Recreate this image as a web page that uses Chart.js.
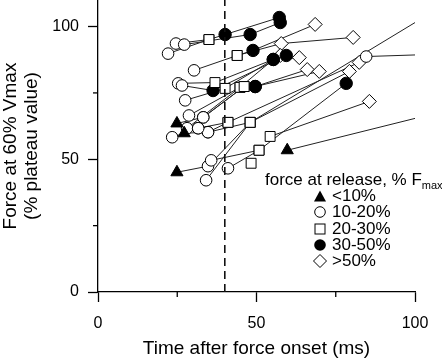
<!DOCTYPE html>
<html>
<head>
<meta charset="utf-8">
<script src="https://cdn.jsdelivr.net/npm/chart.js@4.4.1/dist/chart.umd.min.js"></script>
<style>
  html, body { margin: 0; padding: 0; background: #fff; }
  #wrap { position: relative; width: 442px; height: 363px; font-family: 'Liberation Sans', Arial, sans-serif; color: #000; }
  #legendTitle { position: absolute; left: 265px; top: 169px; font-size: 17px; line-height: 22px; white-space: nowrap; }
  #legendTitle sub { font-size: 11px; vertical-align: -4px; line-height: 0; }
  .row { position: absolute; left: 313px; height: 16px; line-height: 16px; font-size: 17px; white-space: nowrap; }
  .row svg { position: absolute; left: 0; top: 1px; }
  .row span { position: absolute; left: 19px; top: 0; }
</style>
</head>
<body>
<div id="wrap">
  <canvas id="chart" width="442" height="363"></canvas>
  <div id="legendTitle">force at release, % F<sub>max</sub></div>
  <div id="legendRows"></div>
</div>
<script>
// force at release groups (legend order) and their marker styles
const forceGroups = ['<10%', '10-20%', '20-30%', '30-50%', '>50%'];
const groupStyle = ['triangle', 'circle', 'rect', 'circle', 'rectRot'];
const groupFill = ['#000', '#fff', '#fff', '#000', '#fff'];
const groupRadius = [7, 5.8, 7, 6.2, 7];

// one entry per fibre: time after force onset (ms), force (% plateau), group index (null = line end)
const fiberTime = [
    [24.6, 35.0, 40.1, 57.2],
    [27.2, 48.0, 57.5],
    [22.1, 35.0],
    [30.3, 43.9, 48.9, 68.5],
    [43.9, 57.8, 80.5],
    [25.3, 36.9, 55.3, 63.5],
    [26.5, 36.3, 59.4],
    [27.5, 40.1, 57.5],
    [28.7, 44.8, 55.3],
    [33.2, 46.1, 49.6, 66.0],
    [28.1, 44.8, 49.6, 69.8],
    [31.6, 41.0, 82.4],
    [34.7, 48.0, 79.3],
    [24.9, 33.2, 46.1],
    [27.2, 34.7, 41.0],
    [24.9, 34.7, 48.0],
    [34.1, 48.0, 100],
    [35.7, 50.8, 78.3],
    [41.0, 50.8],
    [54.3, 85.6],
    [59.7, 100],
    [84.6, 100],
    [23.4, 31.6],
    [48.3]
];
const fiberForce = [
    [93.6, 95.1, 97.0, 103.4],
    [93.2, 97.0, 101.5],
    [89.8, 95.1],
    [83.5, 89.1, 91.0, 100.8],
    [89.1, 93.6, 95.9],
    [78.6, 78.9, 87.6, 88.3],
    [77.8, 75.9, 89.1],
    [72.2, 76.7, 89.1],
    [66.5, 77.1, 87.6],
    [65.8, 77.4, 77.4, 83.8],
    [61.7, 77.1, 77.4, 83.1],
    [61.7, 63.9, 86.5],
    [60.2, 63.9, 83.1],
    [63.5, 65.8, 77.4],
    [59.8, 60.2, 63.9],
    [45.1, 47.4, 63.9],
    [42.1, 63.9, 101.5],
    [49.6, 53.4, 78.6],
    [46.6, 53.4],
    [58.6, 71.8],
    [53.4, 65.4],
    [88.7, 89.3],
    [58.3, 61.7],
    [48.5]
];
const fiberGroup = [
    [1, 2, 3, 3],
    [1, 3, 3],
    [1, 2],
    [1, 2, 3, 4],
    [2, 4, 4],
    [1, 2, 3, 4],
    [1, 3, 3],
    [1, 2, 4],
    [1, 2, 3],
    [1, 2, 3, 4],
    [1, 2, 3, 4],
    [1, 2, 4],
    [1, 2, 4],
    [0, 1, 2],
    [0, 1, 2],
    [0, 1, 2],
    [1, 2, null],
    [1, 2, 3],
    [1, 2],
    [2, 4],
    [0, null],
    [1, null],
    [1, 1],
    [2]
];

const releaseTime = 40;       // dashed vertical line
const xTicks = [0, 50, 100];
const yTicks = [0, 50, 100];
const minorTicks = [25, 75];

// marker layer: one dataset per group, on top of the lines
const markerSets = forceGroups.map((label, g) => {
    const pts = [];
    fiberTime.forEach((xs, i) => xs.forEach((x, j) => {
        if (fiberGroup[i][j] === g) pts.push({ x: x, y: fiberForce[i][j] });
    }));
    return {
        label: label,
        data: pts,
        showLine: false,
        pointStyle: groupStyle[g],
        pointRadius: groupRadius[g],
        pointBackgroundColor: groupFill[g],
        pointBorderColor: '#000',
        pointBorderWidth: 1
    };
});

const dashedSet = {
    label: 'release',
    data: [{ x: releaseTime, y: 0 }, { x: releaseTime, y: 110 }],
    showLine: true,
    borderColor: '#111',
    borderWidth: 1.6,
    borderDash: [8, 5],
    pointRadius: 0
};

const fiberSets = fiberTime.map((xs, i) => ({
    label: 'fibre ' + (i + 1),
    data: xs.map((x, j) => ({ x: x, y: fiberForce[i][j] })),
    showLine: true,
    borderColor: '#222',
    borderWidth: 1,
    pointRadius: 0,
    tension: 0
}));

// minor ticks at 25 / 75 on both axes
const minorTickPlugin = {
    id: 'minorTicks',
    afterDraw(chart) {
        const ctx = chart.ctx;
        const xs = chart.scales.x, ys = chart.scales.y;
        const area = chart.chartArea;
        ctx.save();
        ctx.strokeStyle = '#000';
        ctx.lineWidth = 1.3;
        minorTicks.forEach(v => {
            const px = xs.getPixelForValue(v);
            ctx.beginPath();
            ctx.moveTo(px, area.bottom);
            ctx.lineTo(px, area.bottom + 5);
            ctx.stroke();
            const py = ys.getPixelForValue(v);
            ctx.beginPath();
            ctx.moveTo(area.left, py);
            ctx.lineTo(area.left - 5, py);
            ctx.stroke();
        });
        ctx.restore();
    }
};

Chart.defaults.font.family = "'Liberation Sans', Arial, sans-serif";
Chart.defaults.color = '#000';

new Chart(document.getElementById('chart'), {
    type: 'scatter',
    data: { datasets: [dashedSet, ...markerSets, ...fiberSets] },
    options: {
        responsive: false,
        animation: false,
        devicePixelRatio: 1,
        layout: { autoPadding: false, padding: { left: 0, right: 27, top: 0, bottom: 0 } },
        plugins: { legend: { display: false }, tooltip: { enabled: false } },
        scales: {
            x: {
                type: 'linear',
                min: 0,
                max: 100,
                afterBuildTicks: s => { s.ticks = xTicks.map(v => ({ value: v })); },
                afterFit: s => { s.height = 71; s.paddingLeft = 0; s.paddingRight = 0; },
                ticks: { font: { size: 16 }, color: '#000', padding: 12, maxRotation: 0 },
                grid: { display: true, drawOnChartArea: false, drawTicks: true, tickLength: 10, tickColor: '#000', tickWidth: 1.3 },
                border: { display: true, color: '#000', width: 1.3 },
                title: { display: true, text: 'Time after force onset (ms)', font: { size: 19 }, color: '#000', padding: { top: 0, bottom: 3 } }
            },
            y: {
                type: 'linear',
                min: 0,
                max: 110,
                afterBuildTicks: s => { s.ticks = yTicks.map(v => ({ value: v })); },
                afterFit: s => { s.width = 98; s.paddingTop = 0; s.paddingBottom = 0; },
                ticks: { font: { size: 16 }, color: '#000', padding: 9 },
                grid: { display: true, drawOnChartArea: false, drawTicks: true, tickLength: 10, tickColor: '#000', tickWidth: 1.3 },
                border: { display: true, color: '#000', width: 1.3 },
                title: {
                    display: true,
                    text: ['Force at 60% Vmax', '(% plateau value)'],
                    font: { size: 19, lineHeight: 1.1 },
                    color: '#000',
                    padding: { top: 0, bottom: 0 }
                }
            }
        }
    },
    plugins: [minorTickPlugin]
});

// legend rows
const legendShapes = [
    '<polygon points="1,12.5 7,1.5 13,12.5" fill="#000"/>',
    '<circle cx="7" cy="7" r="5.3" fill="#fff" stroke="#000"/>',
    '<rect x="2" y="2" width="10" height="10" fill="#fff" stroke="#000"/>',
    '<circle cx="7" cy="7" r="5.8" fill="#000"/>',
    '<polygon points="7,0.5 13.5,7 7,13.5 0.5,7" fill="#fff" stroke="#000"/>'
];
const rows = document.getElementById('legendRows');
forceGroups.forEach((label, g) => {
    const div = document.createElement('div');
    div.className = 'row';
    div.style.top = (188 + g * 16.3) + 'px';
    div.innerHTML = `<svg width="14" height="14">${legendShapes[g]}</svg><span>${label}</span>`;
    rows.appendChild(div);
});
</script>
</body>
</html>
